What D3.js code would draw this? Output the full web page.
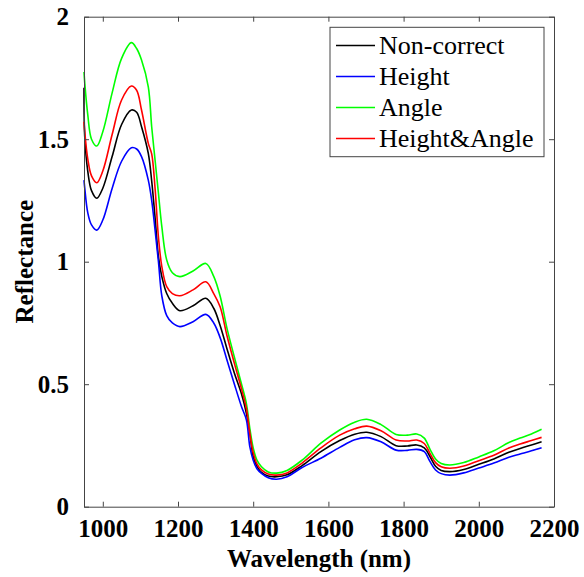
<!DOCTYPE html>
<meta charset="utf-8">

<!-- Load d3.js -->
<script src="https://d3js.org/d3.v7.min.js"></script>

<style>
  body { margin: 0; background: #fff; }
  text { font-family: "Liberation Serif", "Times New Roman", serif; }
</style>

<div id="my_dataviz"></div>

<script>

// wavelengths (nm) shared by every series
var wavelength = [950, 952, 960, 970, 984, 1000, 1025, 1050, 1076, 1090, 1103, 1121, 1130, 1139, 1148,
  1157, 1170, 1185, 1205, 1240, 1274, 1295, 1312, 1330, 1350, 1369, 1382, 1391, 1400, 1410, 1422,
  1440, 1462, 1490, 1530, 1580, 1630, 1670, 1702, 1740, 1780, 1810, 1835, 1855, 1870, 1885, 1900,
  1923, 1960, 2000, 2040, 2080, 2110, 2140, 2167];

var nonCorrect = [1.71, 1.51, 1.37, 1.29, 1.259, 1.30, 1.43, 1.56, 1.619, 1.61, 1.551, 1.442, 1.33, 1.18, 1.02,
  0.939, 0.87, 0.83, 0.80, 0.82, 0.851, 0.81, 0.74, 0.646, 0.545, 0.46, 0.38, 0.30, 0.205, 0.165, 0.140,
  0.125, 0.122, 0.130, 0.168, 0.225, 0.270, 0.296, 0.304, 0.286, 0.249, 0.248, 0.252, 0.240, 0.205, 0.165, 0.148,
  0.143, 0.152, 0.173, 0.195, 0.222, 0.238, 0.252, 0.265];

var heightCorr = [1.333, 1.30, 1.20, 1.15, 1.129, 1.17, 1.30, 1.41, 1.465, 1.46, 1.429, 1.333, 1.25, 1.13, 1.00,
  0.86, 0.78, 0.75, 0.735, 0.755, 0.785, 0.75, 0.69, 0.60, 0.50, 0.408, 0.354, 0.245, 0.190, 0.155, 0.136,
  0.118, 0.112, 0.122, 0.160, 0.198, 0.242, 0.273, 0.282, 0.265, 0.231, 0.230, 0.234, 0.225, 0.185, 0.150, 0.135,
  0.129, 0.138, 0.158, 0.178, 0.202, 0.215, 0.228, 0.241];

var angleCorr = [1.774, 1.73, 1.60, 1.50, 1.472, 1.53, 1.69, 1.83, 1.894, 1.87, 1.823, 1.714, 1.551, 1.415, 1.279,
  1.143, 1.007, 0.955, 0.939, 0.962, 0.993, 0.94, 0.86, 0.73, 0.61, 0.50, 0.42, 0.32, 0.24, 0.19, 0.163,
  0.142, 0.137, 0.148, 0.19, 0.259, 0.313, 0.345, 0.357, 0.335, 0.295, 0.292, 0.297, 0.28, 0.235, 0.195, 0.176,
  0.170, 0.180, 0.203, 0.228, 0.262, 0.280, 0.297, 0.316];

var heightAngleCorr = [1.571, 1.53, 1.42, 1.35, 1.322, 1.37, 1.52, 1.66, 1.717, 1.70, 1.619, 1.483, 1.44, 1.30, 1.10,
  0.98, 0.898, 0.87, 0.861, 0.885, 0.918, 0.87, 0.816, 0.70, 0.585, 0.48, 0.40, 0.30, 0.22, 0.175, 0.150,
  0.133, 0.129, 0.138, 0.178, 0.240, 0.292, 0.318, 0.329, 0.310, 0.272, 0.268, 0.272, 0.258, 0.218, 0.180, 0.163,
  0.157, 0.166, 0.188, 0.210, 0.240, 0.256, 0.270, 0.283];

var seriesNames = ["Non-correct", "Height", "Angle", "Height&Angle"];
var seriesColors = ["#000000", "#0000ff", "#00ff00", "#ff0000"];
var seriesValues = [nonCorrect, heightCorr, angleCorr, heightAngleCorr];

var xTicks = [1000, 1200, 1400, 1600, 1800, 2000, 2200];
var yTicks = [0, 0.5, 1, 1.5, 2];

// plot box in page pixels
var plotLeft = 84, plotRight = 554, plotTop = 16.7, plotBottom = 506.7;

var svg = d3.select("#my_dataviz")
  .append("svg")
    .attr("width", 584)
    .attr("height", 577);

var x = d3.scaleLinear().domain([950, 2200]).range([plotLeft, plotRight]);
var y = d3.scaleLinear().domain([0, 2]).range([plotBottom, plotTop]);

// curves (centripetal catmull-rom keeps them smooth without big overshoot)
var line = d3.line()
  .x(function(d) { return x(d[0]); })
  .y(function(d) { return y(d[1]); })
  .curve(d3.curveCatmullRom.alpha(0.5));

seriesValues.forEach(function(vals, i) {
  svg.append("path")
    .datum(wavelength.map(function(w, j) { return [w, vals[j]]; }))
    .attr("fill", "none")
    .attr("stroke", seriesColors[i])
    .attr("stroke-width", 1.6)
    .attr("d", line);
});

// axes: MATLAB style box with inward ticks
function styleAxis(g) {
  g.select(".domain").attr("stroke", "#444").attr("stroke-width", 1);
  g.selectAll(".tick line").attr("stroke", "#444");
  g.selectAll(".tick text")
    .attr("fill", "#000")
    .style("font-size", "25px")
    .style("font-weight", "bold")
    .style("font-family", "'Liberation Serif', serif");
}

svg.append("g")
  .attr("transform", "translate(0," + plotBottom + ")")
  .call(d3.axisBottom(x).tickValues(xTicks).tickSize(-5).tickSizeOuter(0).tickPadding(13).tickFormat(d3.format("d")))
  .call(styleAxis);

svg.append("g")
  .attr("transform", "translate(0," + plotTop + ")")
  .call(d3.axisTop(x).tickValues(xTicks).tickSize(-5).tickSizeOuter(0).tickFormat(""))
  .call(styleAxis);

svg.append("g")
  .attr("transform", "translate(" + plotLeft + ",0)")
  .call(d3.axisLeft(y).tickValues(yTicks).tickSize(-5).tickSizeOuter(0).tickPadding(15).tickFormat(function(d) { return d; }))
  .call(styleAxis);

svg.append("g")
  .attr("transform", "translate(" + plotRight + ",0)")
  .call(d3.axisRight(y).tickValues(yTicks).tickSize(-5).tickSizeOuter(0).tickFormat(""))
  .call(styleAxis);

// axis titles
svg.append("text")
  .attr("x", (plotLeft + plotRight) / 2)
  .attr("y", 567)
  .attr("text-anchor", "middle")
  .style("font-size", "25px")
  .style("font-weight", "bold")
  .text("Wavelength (nm)");

svg.append("text")
  .attr("transform", "translate(33," + (plotTop + plotBottom) / 2 + ") rotate(-90)")
  .attr("text-anchor", "middle")
  .style("font-size", "25px")
  .style("font-weight", "bold")
  .text("Reflectance");

// legend
var legend = svg.append("g");
legend.append("rect")
  .attr("x", 330).attr("y", 27.3)
  .attr("width", 214).attr("height", 129.4)
  .attr("fill", "#fff")
  .attr("stroke", "#444");

seriesNames.forEach(function(name, i) {
  var ly = 45.5 + i * 31;
  legend.append("line")
    .attr("x1", 336).attr("x2", 375)
    .attr("y1", ly).attr("y2", ly)
    .attr("stroke", seriesColors[i])
    .attr("stroke-width", 1.6);
  legend.append("text")
    .attr("x", 379)
    .attr("y", ly + 8)
    .style("font-size", "26px")
    .text(name);
});

</script>
